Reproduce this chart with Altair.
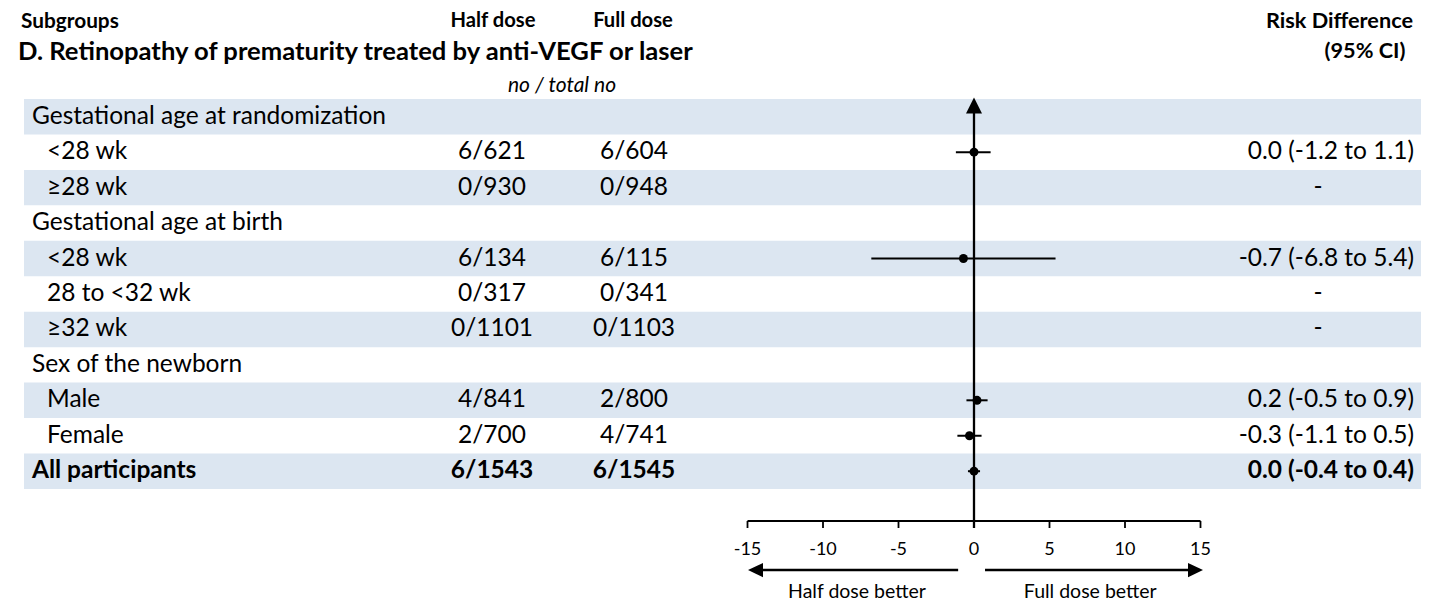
import altair as alt
import pandas as pd

# ---------------- data ----------------
labels = ["Gestational age at randomization", "<28 wk", "≥28 wk",
          "Gestational age at birth", "<28 wk", "28 to <32 wk", "≥32 wk",
          "Sex of the newborn", "Male", "Female", "All participants"]
levels = ["group", "sub", "sub", "group", "sub", "sub", "sub",
          "group", "sub", "sub", "total"]
half_dose = ["", "6/621", "0/930", "", "6/134", "0/317", "0/1101",
             "", "4/841", "2/700", "6/1543"]
full_dose = ["", "6/604", "0/948", "", "6/115", "0/341", "0/1103",
             "", "2/800", "4/741", "6/1545"]
rd_est = [None, 0.0, None, None, -0.7, None, None, None, 0.2, -0.3, 0.0]
rd_lo = [None, -1.2, None, None, -6.8, None, None, None, -0.5, -1.1, -0.4]
rd_hi = [None, 1.1, None, None, 5.4, None, None, None, 0.9, 0.5, 0.4]
rd_text = ["", "0.0 (-1.2 to 1.1)", "-", "", "-0.7 (-6.8 to 5.4)", "-", "-",
           "", "0.2 (-0.5 to 0.9)", "-0.3 (-1.1 to 0.5)", "0.0 (-0.4 to 0.4)"]
ticks = [-15, -10, -5, 0, 5, 10, 15]
arrow_labels = ["Half dose better", "Full dose better"]

# ---------------- layout ----------------
W, H = 1413, 595
ROW0 = 108.7      # first row centre (px from top of plot)
ROWH = 35.45      # row height
X0 = 966.0        # px of zero risk difference
PXU = 15.1        # px per unit of risk difference
FONT = "Lato"
FS = 24.5
FS_RD = 24.5
BAND = "#dce6f1"

xs = alt.Scale(domain=[-X0 / PXU, (W - X0) / PXU], nice=False, zero=False)
ys = alt.Scale(domain=[-ROW0 / ROWH, (H - ROW0) / ROWH], reverse=True,
               nice=False, zero=False)

df = pd.DataFrame({
    "row": list(range(len(labels))),
    "label": labels, "level": levels,
    "half": half_dose, "full": full_dose,
    "est": rd_est, "lo": rd_lo, "hi": rd_hi, "rdt": rd_text,
})
df["band"] = df["row"] % 2 == 0

Y = alt.Y("row:Q", scale=ys, axis=None)

bands = alt.Chart(df[df["band"]]).transform_calculate(
    y1="datum.row - 0.5", y2="datum.row + 0.5"
).mark_rect(color=BAND).encode(
    x=alt.value(16), x2=alt.value(1419),
    y=alt.Y("y1:Q", scale=ys, axis=None), y2="y2:Q",
)

def txt(data, field, x, align, bold=False, size=FS):
    return alt.Chart(data).mark_text(
        font=FONT, fontSize=size, align=align, baseline="middle",
        fontWeight="bold" if bold else "normal", color="black",
    ).encode(x=alt.value(x), y=Y, text=f"{field}:N")

grp = df[df["level"] == "group"]
sub = df[df["level"] == "sub"]
tot = df[df["level"] == "total"]
dash = df[df["rdt"] == "-"]
rdreg = df[(df["level"] == "sub") & (df["rdt"] != "-")]

layers = [bands]
layers += [
    txt(grp, "label", 24, "left"),
    txt(sub, "label", 39, "left"),
    txt(tot, "label", 24, "left", bold=True),
    txt(sub, "half", 484, "center"),
    txt(sub, "full", 626, "center"),
    txt(tot, "half", 484, "center", bold=True),
    txt(tot, "full", 626, "center", bold=True),
    txt(rdreg, "rdt", 1406, "right", size=FS_RD),
    txt(dash, "rdt", 1310, "center", size=FS_RD),
    txt(tot, "rdt", 1406, "right", bold=True, size=FS_RD),
]

def header(text, x, y, align, size, bold=True, italic=False):
    return alt.Chart(pd.DataFrame({"t": [text]})).mark_text(
        font=FONT, fontSize=size, align=align, baseline="middle",
        fontWeight="bold" if bold else "normal",
        fontStyle="italic" if italic else "normal", color="black",
    ).encode(x=alt.value(x), y=alt.value(y), text="t:N")

layers += [
    header("Subgroups", 13, 14, "left", 20.8),
    header("Half dose", 485, 13, "center", 20.2),
    header("Full dose", 625, 13, "center", 20.2),
    header("D. Retinopathy of prematurity treated by anti-VEGF or laser",
           10, 44, "left", 25.6),
    header("no / total no", 554, 78, "center", 21, bold=False, italic=True),
    header("Risk Difference", 1405, 13, "right", 21.7),
    header("(95% CI)", 1357, 43, "center", 21.7),
]

# zero line with arrow head
zero = pd.DataFrame({"v": [0]})
layers += [
    alt.Chart(zero).mark_rule(color="black", strokeWidth=2.3).encode(
        x=alt.X("v:Q", scale=xs, axis=None), y=alt.value(104), y2=alt.value(520)),
    alt.Chart(zero).mark_point(
        shape="M0,-1L1,1L-1,1Z", filled=True, color="black", opacity=1,
        size=256, strokeWidth=0).encode(
        x=alt.X("v:Q", scale=xs, axis=None), y=alt.value(97.5)),
]

# CIs and estimates
est = df.dropna(subset=["est"])
layers += [
    alt.Chart(est).mark_rule(color="black", strokeWidth=2).encode(
        x=alt.X("lo:Q", scale=xs, axis=None), x2="hi:Q", y=Y),
    alt.Chart(est).mark_point(shape="circle", filled=True, color="black",
                              opacity=1, size=80).encode(
        x=alt.X("est:Q", scale=xs, axis=None), y=Y),
]

# x axis
tk = pd.DataFrame({"t": ticks})
ax = pd.DataFrame({"a": [min(ticks)], "b": [max(ticks)]})
layers += [
    alt.Chart(ax).mark_rule(color="black", strokeWidth=1.8).encode(
        x=alt.X("a:Q", scale=xs, axis=None), x2="b:Q", y=alt.value(513)),
    alt.Chart(tk).mark_rule(color="black", strokeWidth=1.8).encode(
        x=alt.X("t:Q", scale=xs, axis=None), y=alt.value(513), y2=alt.value(520)),
    alt.Chart(tk).mark_text(font=FONT, fontSize=18, baseline="middle",
                            align="center", color="black").encode(
        x=alt.X("t:Q", scale=xs, axis=None), y=alt.value(542), text="t:N"),
]

# direction arrows
arr = pd.DataFrame({"a": [-1.05, 0.73], "b": [-14.3, 14.5]})
heads = pd.DataFrame({"c": [-14.47, 14.67], "s": ["L", "R"]})
lab = pd.DataFrame({"c": [-7.75, 7.7], "t": arrow_labels})
layers += [
    alt.Chart(arr).mark_rule(color="black", strokeWidth=2.3).encode(
        x=alt.X("a:Q", scale=xs, axis=None), x2="b:Q", y=alt.value(562)),
    alt.Chart(heads[heads["s"] == "L"]).mark_point(
        shape="M-1,0L1,-0.95L1,0.95Z", filled=True, color="black", opacity=1,
        size=225, strokeWidth=0).encode(
        x=alt.X("c:Q", scale=xs, axis=None), y=alt.value(562)),
    alt.Chart(heads[heads["s"] == "R"]).mark_point(
        shape="M1,0L-1,-0.95L-1,0.95Z", filled=True, color="black", opacity=1,
        size=225, strokeWidth=0).encode(
        x=alt.X("c:Q", scale=xs, axis=None), y=alt.value(562)),
    alt.Chart(lab).mark_text(font=FONT, fontSize=19.5, baseline="middle",
                             align="center", color="black").encode(
        x=alt.X("c:Q", scale=xs, axis=None), y=alt.value(584), text="t:N"),
]

chart = alt.layer(*layers).properties(
    width=W, height=H, padding=0,
    autosize=alt.AutoSizeParams(type="none"),
).configure_view(strokeWidth=0)

chart.save("out.html", embed_options={"renderer": "svg", "actions": False})
